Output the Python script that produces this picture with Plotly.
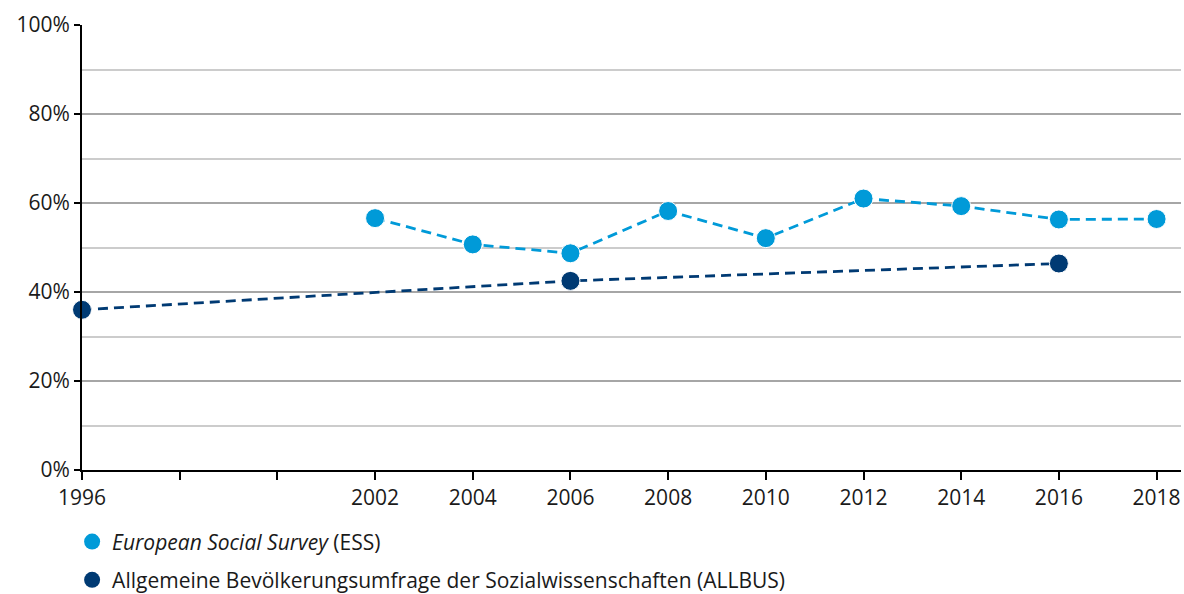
import plotly.graph_objects as go

ess_years = [2002, 2004, 2006, 2008, 2010, 2012, 2014, 2016, 2018]
ess_values = [56.6, 50.7, 48.7, 58.2, 52.1, 61.0, 59.3, 56.3, 56.4]

allbus_years = [1996, 2006, 2016]
allbus_values = [36.0, 42.5, 46.4]

x_tickvals = [1996, 1998, 2000, 2002, 2004, 2006, 2008, 2010, 2012, 2014, 2016, 2018]
x_ticktext = ["1996", "", "", "2002", "2004", "2006", "2008", "2010", "2012", "2014", "2016", "2018"]
y_tickvals = [0, 20, 40, 60, 80, 100]
y_ticktext = ["0%", "20%", "40%", "60%", "80%", "100%"]

ESS_NAME = "<i>European Social Survey</i> (ESS)"
ALLBUS_NAME = "Allgemeine Bevölkerungsumfrage der Sozialwissenschaften (ALLBUS)"

ESS_COLOR = "#009AD8"
ALLBUS_COLOR = "#003A73"
FONT = "Open Sans"
FS = 21
TXT = "#1a1a1a"

fig = go.Figure()
fig.add_trace(go.Scatter(
    x=ess_years, y=ess_values, mode="lines+markers", name=ESS_NAME,
    line=dict(color=ESS_COLOR, width=2.8, dash="10px,6px"),
    marker=dict(color=ESS_COLOR, size=19, line=dict(color="white", width=1)),
    cliponaxis=False, showlegend=False,
))
fig.add_trace(go.Scatter(
    x=allbus_years, y=allbus_values, mode="lines+markers", name=ALLBUS_NAME,
    line=dict(color=ALLBUS_COLOR, width=2.8, dash="10px,6px"),
    marker=dict(color=ALLBUS_COLOR, size=19, line=dict(color="white", width=1)),
    cliponaxis=False, showlegend=False,
))
# legend entries (circle only, as in the reference)
fig.add_trace(go.Scatter(
    x=[None], y=[None], mode="markers", name=ESS_NAME,
    marker=dict(color=ESS_COLOR, size=19), legendgroup="a",
))
fig.add_trace(go.Scatter(
    x=[None], y=[None], mode="markers", name=ALLBUS_NAME,
    marker=dict(color=ALLBUS_COLOR, size=19), legendgroup="b",
))

fig.update_layout(
    width=1184, height=594,
    margin=dict(l=82, r=3, t=25, b=124, autoexpand=False),
    paper_bgcolor="white", plot_bgcolor="white",
    font=dict(family=FONT, size=FS, color=TXT),
    showlegend=True,
    legend=dict(
        x=-0.009, y=-0.1155, xanchor="left", yanchor="top",
        orientation="v", traceorder="grouped", tracegroupgap=8,
        font=dict(family=FONT, size=FS, color=TXT),
        itemwidth=30, bgcolor="rgba(0,0,0,0)",
    ),
    xaxis=dict(
        range=[1996, 2018.5], tickmode="array",
        tickvals=x_tickvals, ticktext=x_ticktext,
        showgrid=False, zeroline=False, automargin=False,
        showline=True, linecolor="black", linewidth=2,
        ticks="outside", ticklen=8, tickwidth=2, tickcolor="black",
        tickfont=dict(family=FONT, size=FS, color=TXT),
    ),
    yaxis=dict(
        range=[0, 100], tickmode="array",
        tickvals=y_tickvals, ticktext=y_ticktext,
        showgrid=True, gridcolor="#a6a6a6", gridwidth=1.5,
        minor=dict(dtick=10, showgrid=True, gridcolor="#cccccc", gridwidth=1.5),
        zeroline=False, automargin=False,
        showline=True, linecolor="black", linewidth=2,
        ticks="outside", ticklen=6, tickwidth=2, tickcolor="black",
        tickfont=dict(family=FONT, size=FS, color=TXT),
    ),
)

fig.write_html(
    "out.html",
    config={"displayModeBar": False},
    post_script="document.body.style.margin='0';document.body.style.overflow='hidden';",
)
